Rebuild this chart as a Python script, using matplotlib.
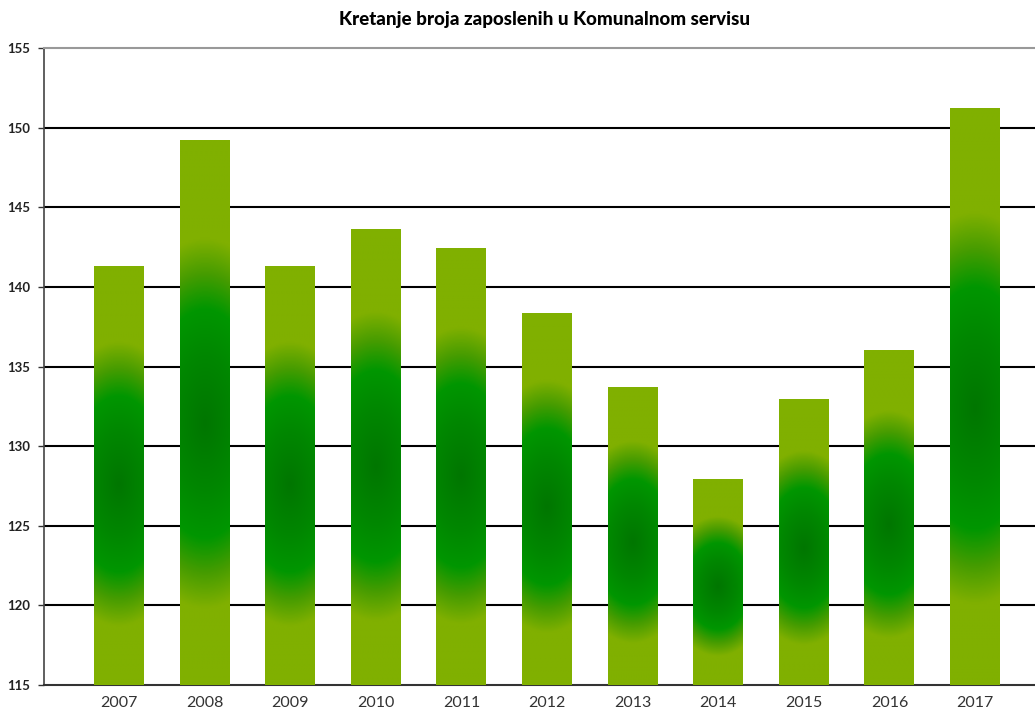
import matplotlib
matplotlib.use("Agg")
import matplotlib.pyplot as plt
from matplotlib.colors import LinearSegmentedColormap
import numpy as np

# data
years = ["2007", "2008", "2009", "2010", "2011", "2012", "2013", "2014", "2015", "2016", "2017"]
employees = [141.3, 149.2, 141.3, 143.6, 142.4, 138.3, 133.7, 127.9, 132.9, 136.0, 151.2]
y_ticks = [115, 120, 125, 130, 135, 140, 145, 150, 155]
title = "Kretanje broja zaposlenih u Komunalnom servisu"

y_min, y_max = 115, 155
bar_w = 0.584

# radial green gradient used for each bar
grad = LinearSegmentedColormap.from_list("bar", [
    (0.00, (0 / 255, 118 / 255, 0)),
    (0.25, (0 / 255, 135 / 255, 0)),
    (0.42, (0 / 255, 150 / 255, 0)),
    (0.55, (70 / 255, 156 / 255, 0)),
    (0.68, (128 / 255, 176 / 255, 0)),
    (1.00, (128 / 255, 176 / 255, 0)),
])


def bar_image(value, px_per_unit=15.925, half_w_px=25.0):
    half_h = (value - y_min) * px_per_unit / 2.0
    a = 40 + 0.35 * half_h
    u = np.linspace(-1, 1, 60)
    v = np.linspace(-1, 1, 400)
    U, V = np.meshgrid(u, v)
    r = np.sqrt((U * half_w_px / a) ** 2 + (V + 0.04) ** 2)
    return np.clip(r, 0, 1)


fig = plt.figure(figsize=(10.35, 7.13), dpi=100)
ax = fig.add_axes([44 / 1035, 1 - 685 / 713, 1 - 44 / 1035, (685 - 48) / 713])

x = np.arange(len(years))
for xi, val in zip(x, employees):
    img = bar_image(val)
    ax.imshow(img, cmap=grad, vmin=0, vmax=1, aspect="auto", origin="lower",
              extent=[xi - bar_w / 2, xi + bar_w / 2, y_min, val],
              zorder=3, interpolation="bilinear")

for t in y_ticks[1:-1]:
    ax.axhline(t, color="black", lw=1.5, zorder=1)

ax.set_xlim(-0.876, 10.70)
ax.set_ylim(y_min, y_max)
ax.set_xticks(x)
ax.set_xticklabels(years, fontsize=11.5, color="#333333", family="Lato")
ax.set_yticks(y_ticks)
ax.set_yticklabels([str(t) for t in y_ticks], fontsize=9.5, fontweight="bold",
                   color="#222222", family="Lato")
ax.tick_params(axis="x", length=0, pad=8)
ax.tick_params(axis="y", length=4, width=1, color="#333333", pad=6)

ax.spines["right"].set_visible(False)
ax.spines["top"].set_color("#999999")
ax.spines["top"].set_linewidth(1.5)
ax.spines["left"].set_color("#444444")
ax.spines["left"].set_linewidth(1.2)
ax.spines["bottom"].set_color("#333333")
ax.spines["bottom"].set_linewidth(1.5)

fig.text(545 / 1035, 1 - 20 / 713, title, ha="center", va="center",
         fontsize=13.5, fontweight="black", family="Lato")

fig.savefig("out.png", dpi=100)
